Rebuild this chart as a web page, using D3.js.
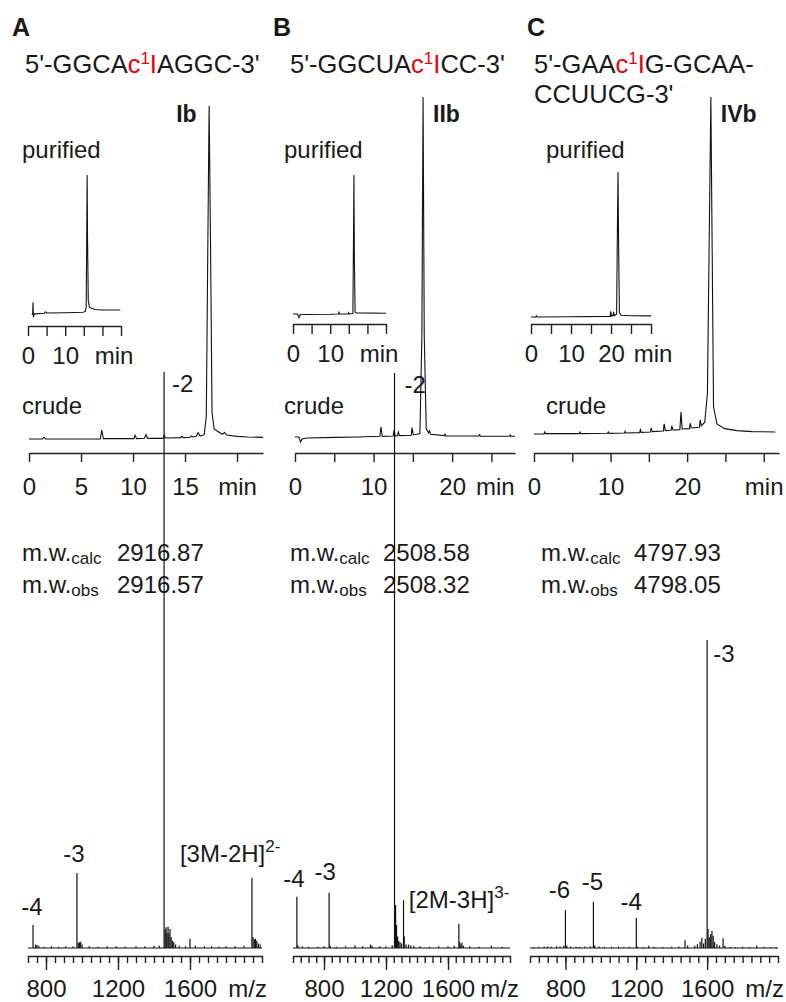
<!DOCTYPE html>
<html><head><meta charset="utf-8">
<script src="https://cdn.jsdelivr.net/npm/d3@7"></script>
<style>
body{margin:0;background:#fff}
svg text{font-family:"Liberation Sans",Arial,sans-serif;fill:#1a1a1a}
</style>
</head><body>
<svg id="c" width="786" height="1002"></svg>
<script>
// ---------------- DATA ----------------
const panelLetters = ["A", "B", "C"];
const seqParts = [
  [["5'-GGCA", 0], ["c", 1], ["1", 2], ["I", 3], ["AGGC-3'", 0]],
  [["5'-GGCUA", 0], ["c", 1], ["1", 2], ["I", 3], ["CC-3'", 0]],
  [["5'-GAA", 0], ["c", 1], ["1", 2], ["I", 3], ["G-GCAA-", 0]]
];
const seqLine2 = ["", "", "CCUUCG-3'"];
const compoundNames = ["Ib", "IIb", "IVb"];
const mwCalc = ["2916.87", "2508.58", "4797.93"];
const mwObs = ["2916.57", "2508.32", "4798.05"];

// crude HPLC traces [time(min), signal(% of main peak)]
const crudeA = [[0,0],[1.3,0],[1.45,0.5],[1.6,0],[6.85,0],[7.0,2.7],[7.15,0.1],[10.1,0.1],[10.2,1.1],[10.35,0.1],[11.1,0.2],[11.25,1.3],[11.4,0.2],[12.9,0.2],[13.0,1.1],[13.15,0.3],[14.6,0.4],[14.7,0.8],[14.85,0.4],[15.5,0.5],[15.6,0.9],[15.75,0.6],[16.1,0.8],[16.25,1.9],[16.45,0.9],[16.85,1.3],[17.05,7],[17.2,60],[17.32,100],[17.45,60],[17.6,8],[17.8,3],[18.2,2.2],[18.6,1.4],[18.8,2.0],[19.0,1.2],[20,0.8],[21,0.6],[22.5,0.5]];
const crudeB = [[0,0],[0.5,0],[0.7,-1.5],[0.9,-0.6],[1.5,-0.3],[5,-0.1],[8,0],[10.8,0.2],[10.95,3.0],[11.1,0.2],[12.5,0.3],[12.6,2.0],[12.75,0.3],[13.05,0.4],[13.15,1.5],[13.3,0.4],[14.8,0.5],[14.9,2.8],[15.05,0.6],[15.9,1.0],[16.15,30],[16.3,100],[16.45,30],[16.7,2.5],[17.0,1.2],[17.1,1.8],[17.25,0.8],[19.0,0.4],[19.1,0.8],[19.2,0.3],[23.4,0.3],[23.5,0.7],[23.6,0.2],[27.3,0.2],[27.4,0.6],[27.5,0.2],[28,0.2]];
const crudeC = [[0,0],[1.3,0],[1.4,0.6],[1.5,0.1],[5.9,0.1],[6.0,0.6],[6.1,0.1],[9.6,0.2],[9.7,0.6],[9.8,0.2],[11.8,0.3],[11.9,0.8],[12.0,0.3],[13.8,0.4],[13.9,1.3],[14.0,0.5],[15.2,0.6],[15.3,1.6],[15.45,0.7],[16.9,0.9],[17.0,3.0],[17.15,1.0],[17.9,1.1],[18.0,2.4],[18.15,1.2],[19.05,1.3],[19.2,6.5],[19.35,1.5],[20.3,1.6],[20.4,3.2],[20.55,1.8],[21.6,2.0],[21.7,4.2],[21.85,2.4],[22.3,3.5],[22.65,12],[22.95,70],[23.1,100],[23.25,60],[23.45,8],[23.9,3],[24.9,1.6],[26.5,1.0],[28.5,0.7],[31.5,0.6]];
// purified HPLC traces (insets)
const purA = [[1.0,-1.5],[1.25,-1.2],[1.35,7.5],[1.45,-3.5],[1.7,-1.0],[4.4,-0.6],[4.55,0.4],[4.8,0.4],[4.95,-0.4],[10,-0.2],[14.8,0.2],[15.4,0.8],[15.65,4],[15.8,60],[15.9,100],[16.0,55],[16.2,9],[16.5,4],[17,3],[18,2.2],[20,1.8],[24.8,1.8]];
const purB = [[0,0],[1.2,0],[1.6,-2.5],[1.9,-0.5],[3,-0.4],[10,-0.2],[12.2,0],[12.35,1.2],[12.5,0],[14.8,0.1],[14.95,1.0],[15.1,0.1],[16.1,0.4],[16.25,50],[16.38,100],[16.5,40],[16.7,1.5],[17,0.8],[25,0.5]];
const purC = [[0,0],[1.2,0],[1.35,0.8],[1.5,0],[10,0.2],[19.8,0.4],[19.95,4],[20.1,0.6],[20.5,1.0],[20.65,3.5],[20.8,1.0],[21.4,2],[21.6,60],[21.75,100],[21.9,50],[22.1,3],[22.5,1.2],[25,0.9],[30,0.8]];

// ESI-MS sticks [m/z, intensity(% of base peak)]
const msA = [[728,4.0],[742,0.6],[750,0.5],[760,0.4],[790,0.2],[830,0.3],[870,0.2],[910,0.3],[950,0.3],[972,13],[979,0.9],[986,1.0],[993,1.1],[1000,0.6],[1040,0.3],[1090,0.2],[1140,0.3],[1190,0.3],[1240,0.2],[1300,0.3],[1350,0.3],[1400,0.4],[1430,0.4],[1456,100],[1462,3.2],[1467,3.6],[1472,2.6],[1478,3.7],[1483,2.5],[1489,3.3],[1495,1.9],[1502,1.3],[1510,1.0],[1520,0.6],[1540,0.4],[1575,0.3],[1600,1.6],[1630,0.4],[1680,0.3],[1720,0.3],[1760,0.2],[1800,0.3],[1850,0.3],[1900,0.4],[1944,12.2],[1950,1.9],[1957,1.5],[1964,1.6],[1971,1.2],[1980,0.8],[1990,0.6]];
const msB = [[625,8.9],[632,0.5],[660,0.3],[700,0.2],[760,0.2],[800,0.3],[833,9.6],[840,0.4],[880,0.2],[940,0.3],[1000,0.5],[1050,0.3],[1100,0.6],[1110,0.4],[1160,0.3],[1200,0.3],[1240,0.5],[1255,100],[1262,7.5],[1268,4.0],[1275,2.0],[1282,1.2],[1290,1.0],[1300,0.8],[1313,8.3],[1318,2.0],[1330,0.6],[1345,0.6],[1360,0.5],[1380,0.4],[1420,0.3],[1480,0.2],[1540,0.3],[1600,0.3],[1640,0.4],[1670,4.2],[1676,1.0],[1683,0.6],[1690,0.9],[1700,0.4],[1740,0.3],[1800,0.2],[1880,0.4],[1950,0.2]];
const msC = [[620,0.3],[650,0.4],[680,0.5],[700,0.6],[720,0.4],[750,0.6],[770,0.5],[790,0.7],[800,12.3],[808,0.8],[830,0.5],[860,0.4],[880,0.3],[910,0.5],[940,0.6],[958,15],[965,0.8],[990,0.5],[1020,0.4],[1060,0.4],[1100,0.5],[1130,0.3],[1160,0.4],[1200,9.7],[1205,0.5],[1240,0.3],[1270,0.7],[1300,0.4],[1350,0.3],[1400,0.4],[1440,0.5],[1475,2.5],[1490,0.8],[1530,0.7],[1545,1.2],[1560,2.0],[1570,3.3],[1580,1.5],[1590,3.0],[1600,100],[1605,6.2],[1612,3.5],[1620,4.5],[1627,5.5],[1634,4.0],[1642,2.0],[1655,1.2],[1670,0.8],[1690,3.2],[1700,0.7],[1730,0.4],[1760,0.3],[1800,0.4],[1840,0.3],[1880,0.8],[1920,0.4],[1960,0.3],[1990,0.3]];

// labelled MS peaks [m/z, intensity, label]
const msLabelsA = [[728,4.0,"-4"],[972,13,"-3"],[1456,100,"-2"],[1944,12.2,"[3M-2H]|2-"]];
const msLabelsB = [[625,8.9,"-4"],[833,9.6,"-3"],[1255,100,"-2"],[1670,4.2,"[2M-3H]|3-"]];
const msLabelsC = [[800,12.3,"-6"],[958,15,"-5"],[1200,9.7,"-4"],[1600,100,"-3"]];

// axis ticks
const crudeTicksA = [0,5,10,15,20], crudeLabelsA = ["0","5","10","15","min"];
const crudeTicksB = [0,5,10,15,20,25], crudeLabelsB = ["0","","10","","20",""];
const crudeTicksC = [0,5,10,15,20,25,30], crudeLabelsC = ["0","","10","","20","","min"];
const insetTicksA = [0,5,10,15,20,25], insetLabelsA = ["0","","10","","",""];
const insetTicksB = [0,5,10,15,20,25], insetLabelsB = ["0","","10","","",""];
const insetTicksC = [0,5,10,15,20,25,30], insetLabelsC = ["0","","10","","20","",""];
const msMajorTicks = [800,1200,1600];
const msMinorTicksA = d3.range(700, 2001, 50);
const msMinorTicksBC = d3.range(600, 2001, 50);

// ---------------- DRAW ----------------
const svg = d3.select("#c");
const FONT = 24;

// layout per panel (pixel geometry only)
const P = [
  {x0:0,  letterX:12, seqX:25, crude:{r:[29,263],d:[0,22.5],base:439,top:106,axisY:453,minT:null},
   inset:{r:[28,121],d:[0,25],base:312.5,top:175,axisY:326,minX:114},
   name:{dx:-33}, mwX:22, mwValX:117,
   ms:{r:[28,262],d:[700,2000],base:948,top:372,axisY:956,mzX:267}},
  {x0:262,letterX:273,seqX:290, crude:{r:[295,515],d:[0,28],base:437,top:97,axisY:453,minT:25.5},
   inset:{r:[293,386],d:[0,25],base:314,top:175,axisY:324,minX:379},
   name:{dx:10}, mwX:290, mwValX:383,
   ms:{r:[293,510],d:[600,2000],base:948,top:373,axisY:956,mzX:519}},
  {x0:524,letterX:527,seqX:534, crude:{r:[534,779],d:[0,32],base:434,top:97,axisY:453,minT:null},
   inset:{r:[531,651],d:[0,30],base:317,top:172,axisY:324,minX:653},
   name:{dx:10}, mwX:541, mwValX:634,
   ms:{r:[530,778],d:[600,2000],base:948,top:640,axisY:956,mzX:784}}
];
const crudeData = [crudeA, crudeB, crudeC];
const purData = [purA, purB, purC];
const msData = [msA, msB, msC];
const msLabels = [msLabelsA, msLabelsB, msLabelsC];
const crudeTicks = [[crudeTicksA,crudeLabelsA],[crudeTicksB,crudeLabelsB],[crudeTicksC,crudeLabelsC]];
const insetTicks = [[insetTicksA,insetLabelsA],[insetTicksB,insetLabelsB],[insetTicksC,insetLabelsC]];
const msMinor = [msMinorTicksA, msMinorTicksBC, msMinorTicksBC];

// label offsets (dx, dy from peak apex), anchor
const msLabelPos = [
  [[-1,-10,"middle"],[-3,-11,"middle"],[8,20,"start"],[-72,-16,"start"]],
  [[-3,-10,"middle"],[-4,-13,"middle"],[10,20,"start"],[-50,-16,"start"]],
  [[-6,-12,"middle"],[-1,-12,"middle"],[-5,-8,"middle"],[6,22,"start"]]
];

function axis(g, scale, y, ticks, labels, size, pad) {
  const ax = d3.axisBottom(scale).tickValues(ticks).tickSize(size).tickSizeOuter(0).tickPadding(pad)
    .tickFormat((d,i) => labels[i]);
  const a = g.append("g").attr("transform", `translate(0,${y})`).call(ax);
  a.select(".domain").attr("stroke", "#222").attr("stroke-width", 1.4);
  a.selectAll(".tick line").attr("stroke", "#222").attr("stroke-width", 1.4);
  a.selectAll(".tick text").attr("font-size", FONT).attr("font-family", '"Liberation Sans",Arial,sans-serif').attr("fill", "#1a1a1a");
  return a;
}

P.forEach((p, i) => {
  const g = svg.append("g");
  // panel letter
  g.append("text").attr("x", p.letterX).attr("y", 36).attr("font-size", 25).attr("font-weight", "bold").text(panelLetters[i]);
  // sequence
  const st = g.append("text").attr("x", p.seqX).attr("y", 73).attr("font-size", 25.5);
  seqParts[i].forEach(([s, kind]) => {
    const ts = st.append("tspan").text(s);
    if (kind >= 1) ts.attr("fill", "#e8000b");
    if (kind === 2) ts.attr("font-size", 17).attr("dy", -9);
    if (kind === 3) ts.attr("dy", 9);
  });
  if (seqLine2[i]) g.append("text").attr("x", p.seqX).attr("y", 103).attr("font-size", 25.5).text(seqLine2[i]);

  // crude chromatogram
  const cx = d3.scaleLinear(p.crude.d, p.crude.r);
  const cy = d3.scaleLinear([0, 100], [p.crude.base, p.crude.top]);
  const line = d3.line().x(d => cx(d[0])).y(d => cy(d[1]));
  g.append("path").attr("d", line(crudeData[i])).attr("fill", "none").attr("stroke", "#111").attr("stroke-width", 1.1);
  axis(g, cx, p.crude.axisY, crudeTicks[i][0], crudeTicks[i][1], 9, 16);
  if (p.crude.minT !== null) g.append("text").attr("x", cx(p.crude.minT)).attr("y", p.crude.axisY + 42).attr("text-anchor", "middle").attr("font-size", FONT).text("min");
  g.append("text").attr("x", p.x0 + 22).attr("y", 414).attr("font-size", FONT).text("crude");
  // compound name
  const apex = crudeData[i].reduce((a, b) => b[1] > a[1] ? b : a);
  g.append("text").attr("x", cx(apex[0]) + p.name.dx).attr("y", 122).attr("font-size", 23).attr("font-weight", "bold").text(compoundNames[i]);

  // inset
  const ix = d3.scaleLinear(p.inset.d, p.inset.r);
  const iy = d3.scaleLinear([0, 100], [p.inset.base, p.inset.top]);
  const iline = d3.line().x(d => ix(d[0])).y(d => iy(d[1]));
  g.append("path").attr("d", iline(purData[i])).attr("fill", "none").attr("stroke", "#111").attr("stroke-width", 1.1);
  axis(g, ix, p.inset.axisY, insetTicks[i][0], insetTicks[i][1], 10, 11);
  g.append("text").attr("x", p.inset.minX).attr("y", p.inset.axisY + 38).attr("text-anchor", "middle").attr("font-size", FONT).text("min");
  g.append("text").attr("x", p.x0 + 22).attr("y", 158).attr("font-size", FONT).text("purified");

  // m.w.
  [["calc", mwCalc[i], 561], ["obs", mwObs[i], 593]].forEach(([sub, v, y]) => {
    const t = g.append("text").attr("x", p.mwX).attr("y", y).attr("font-size", FONT);
    t.append("tspan").text("m.w.");
    t.append("tspan").attr("font-size", 17).attr("dy", 3).text(sub);
    g.append("text").attr("x", p.mwValX).attr("y", y).attr("font-size", FONT).text(v);
  });

  // MS
  const mx = d3.scaleLinear(p.ms.d, p.ms.r);
  const my = d3.scaleLinear([0, 100], [p.ms.base, p.ms.top]);
  g.append("line").attr("x1", p.ms.r[0]).attr("x2", p.ms.r[1]).attr("y1", p.ms.base).attr("y2", p.ms.base).attr("stroke", "#111").attr("stroke-width", 1);
  g.selectAll(".stick").data(msData[i]).join("line").attr("class", "stick")
    .attr("x1", d => mx(d[0])).attr("x2", d => mx(d[0]))
    .attr("y1", p.ms.base).attr("y2", d => my(d[1]))
    .attr("stroke", "#111").attr("stroke-width", 1.2);
  axis(g, mx, p.ms.axisY, msMinor[i], msMinor[i].map(() => ""), 7, 0);
  axis(g, mx, p.ms.axisY, msMajorTicks, ["800","1200","1600"], 14, 10).select(".domain").remove();
  g.append("text").attr("x", p.ms.mzX).attr("y", 997).attr("text-anchor", "end").attr("font-size", FONT).text("m/z");
  msLabels[i].forEach((l, k) => {
    const [dx, dy, anchor] = msLabelPos[i][k];
    const t = g.append("text").attr("x", mx(l[0]) + dx).attr("y", my(l[1]) + dy).attr("text-anchor", anchor).attr("font-size", FONT);
    const parts = l[2].split("|");
    t.append("tspan").text(parts[0]);
    if (parts[1]) t.append("tspan").attr("font-size", 17).attr("dy", -10).text(parts[1]);
  });
});
</script>
</body></html>
